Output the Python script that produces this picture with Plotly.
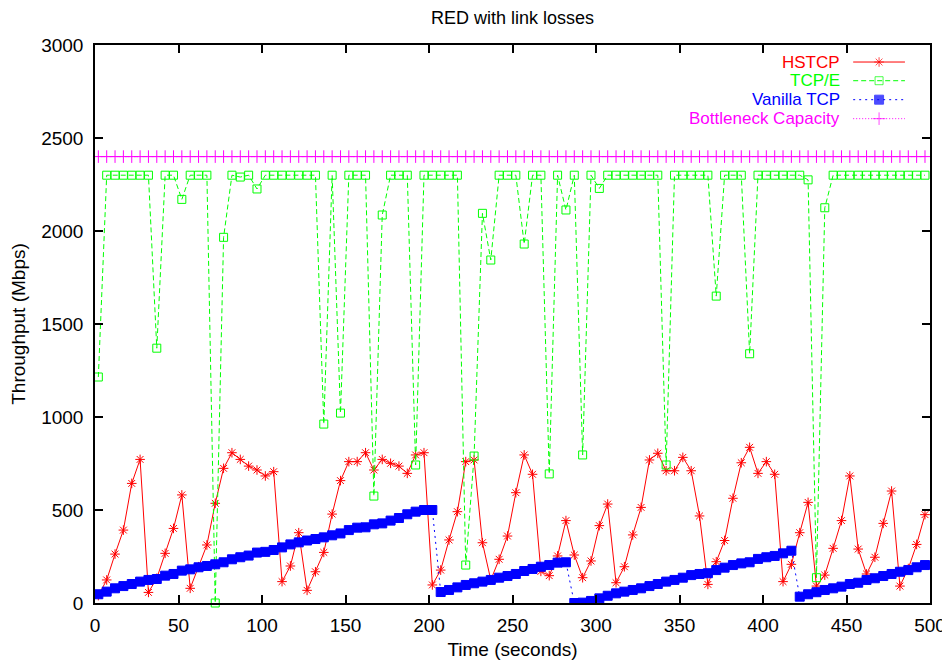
import plotly.graph_objects as go

# ---------------- data ----------------
TIME_S = list(range(2, 500, 5))  # sampling instants (s), 100 samples

HSTCP = [40, 124, 263, 392, 643, 772, 57, 133, 267, 401,
         581, 79, 195, 312, 536, 724, 808, 772, 736, 715,
         683, 706, 115, 199, 378, 68, 168, 272, 478, 658,
         760, 760, 808, 715, 772, 751, 736, 697, 796, 808,
         97, 177, 339, 491, 760, 769, 324, 124, 235, 360,
         593, 796, 692, 170, 147, 253, 443, 258, 136, 226,
         416, 532, 109, 195, 366, 514, 769, 805, 711, 711,
         783, 711, 468, 100, 222, 336, 563, 754, 837, 697,
         760, 692, 115, 208, 378, 541, 91, 150, 294, 443,
         683, 290, 156, 246, 428, 602, 91, 185, 315, 475]

TCPE = [1215, 2300, 2300, 2300, 2300, 2300, 2300, 1370, 2300, 2300,
        2170, 2300, 2300, 2300, 0, 1966, 2300, 2290, 2300, 2226,
        2300, 2300, 2300, 2300, 2300, 2300, 2300, 962, 2300, 1021,
        2300, 2300, 2300, 575, 2086, 2300, 2300, 2300, 742, 2300,
        2300, 2300, 2300, 2300, 204, 790, 2095, 1844, 2300, 2300,
        2300, 1930, 2300, 2300, 694, 2300, 2113, 2300, 796, 2300,
        2229, 2300, 2300, 2300, 2300, 2300, 2300, 2300, 742, 2300,
        2300, 2300, 2300, 2300, 1650, 2300, 2300, 2300, 1340, 2300,
        2300, 2300, 2300, 2300, 2300, 2275, 136, 2125, 2300, 2300,
        2300, 2300, 2300, 2300, 2300, 2300, 2300, 2300, 2300, 2300]

VANILLA = [47, 61, 79, 91, 102, 115, 124, 129, 147, 156,
           174, 181, 192, 199, 208, 219, 235, 246, 255, 271,
           275, 285, 299, 315, 326, 336, 344, 353, 364, 374,
           392, 405, 407, 423, 428, 443, 457, 477, 491, 500,
           500, 59, 70, 84, 97, 106, 115, 124, 136, 145,
           156, 172, 183, 195, 204, 217, 219, 0, 2, 11,
           25, 39, 52, 61, 70, 79, 91, 102, 115, 124,
           136, 150, 156, 160, 177, 190, 204, 213, 219, 237,
           246, 253, 267, 281, 34, 47, 58, 70, 79, 88,
           102, 109, 124, 133, 145, 156, 168, 177, 192, 204]

CAPACITY = [2400] * len(TIME_S)

SERIES_NAMES = ["HSTCP", "TCP/E", "Vanilla TCP", "Bottleneck Capacity"]
X_TICKS = [0, 50, 100, 150, 200, 250, 300, 350, 400, 450, 500]
Y_TICKS = [0, 500, 1000, 1500, 2000, 2500, 3000]

# ---------------- styles ----------------
FONT = "Liberation Sans, Arial, Helvetica, sans-serif"
STYLES = [
    dict(color="#ff0000", dash="solid", symbol="asterisk-open", size=8),
    dict(color="#00ff00", dash="5px,3px", symbol="square-open", size=8),
    dict(color="#0000ff", dash="2px,4px", symbol="square", size=9),
    dict(color="#ff00ff", dash="1px,2px", symbol="cross-thin-open", size=9),
]
SERIES_VALUES = [HSTCP, TCPE, VANILLA, CAPACITY]

fig = go.Figure()
for name, vals, st in zip(SERIES_NAMES, SERIES_VALUES, STYLES):
    fig.add_trace(go.Scatter(
        x=TIME_S, y=vals, name=name, mode="lines+markers",
        line=dict(color=st["color"], width=1, dash=st["dash"]),
        marker=dict(symbol=st["symbol"], size=st["size"], color=st["color"],
                    line=dict(color=st["color"], width=1)),
        showlegend=False, cliponaxis=(name != "TCP/E"),
    ))

# --------- gnuplot-style key (text right, sample on the right) ---------
KEY_ROWS_Y = [0.9695, 0.936, 0.902, 0.868]
KEY_TEXT_X = 0.893
KEY_LINE_X = [0.908, 0.939, 0.970]
for name, st, ky in zip(SERIES_NAMES, STYLES, KEY_ROWS_Y):
    fig.add_annotation(x=KEY_TEXT_X, y=ky, xref="paper", yref="paper",
                       text=name, showarrow=False, xanchor="right", yanchor="middle",
                       borderpad=0,
                       font=dict(family=FONT, size=17, color=st["color"]))
    fig.add_trace(go.Scatter(
        x=KEY_LINE_X, y=[ky] * 3, xaxis="x2", yaxis="y2", mode="lines+markers",
        line=dict(color=st["color"], width=1, dash=st["dash"]),
        marker=dict(symbol=st["symbol"], size=[0, st["size"], 0], color=st["color"],
                    line=dict(color=st["color"], width=[0, 1, 0])),
        showlegend=False, hoverinfo="skip",
    ))

axis_common = dict(showline=True, linecolor="black", linewidth=1.5, mirror="ticks",
                   ticks="inside", ticklen=8, tickwidth=1.5, tickcolor="black",
                   showgrid=False, zeroline=False, automargin=False,
                   tickfont=dict(family=FONT, size=19, color="black"))

# page body adds an 8 px offset; figure is sized/margined to compensate
fig.update_layout(
    width=942, height=659,
    margin=dict(l=87, r=20, t=37, b=64),
    paper_bgcolor="white", plot_bgcolor="white",
    font=dict(family=FONT, size=18, color="black"),
    title=dict(text="RED with link losses", x=0.5355, xanchor="center",
               y=0.985, yanchor="middle", font=dict(family=FONT, size=18, color="black")),
    xaxis=dict(range=[0, 500], tickvals=X_TICKS, ticklabelstandoff=4,
               title=dict(text="Time (seconds)", standoff=8,
                          font=dict(family=FONT, size=19)), **axis_common),
    yaxis=dict(range=[0, 3000], tickvals=Y_TICKS, ticklabelstandoff=6,
               title=dict(text="Throughput (Mbps)", standoff=12,
                          font=dict(family=FONT, size=19)), **axis_common),
    xaxis2=dict(range=[0, 1], overlaying="x", visible=False, anchor="y2"),
    yaxis2=dict(range=[0, 1], overlaying="y", visible=False, anchor="x2"),
)

fig.write_html("out.html")
